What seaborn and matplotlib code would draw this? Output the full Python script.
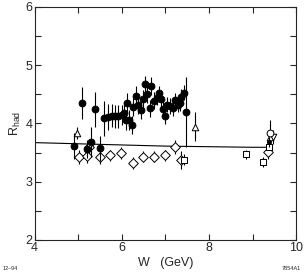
import numpy as np
import pandas as pd
import seaborn as sns
import matplotlib.pyplot as plt
from matplotlib.ticker import MultipleLocator

# filled circles
circ_w = [4.90, 5.09, 5.21, 5.30, 5.39, 5.50, 5.59, 5.69, 5.77, 5.84, 5.92, 6.00, 6.05,
          6.09, 6.12, 6.17, 6.24, 6.26, 6.32, 6.38, 6.43, 6.49, 6.54, 6.58, 6.64, 6.68,
          6.74, 6.80, 6.85, 6.90, 6.94, 6.99, 7.03, 7.10, 7.17, 7.23, 7.28, 7.33, 7.37,
          7.43, 7.47]
circ_r = [3.61, 4.35, 3.56, 3.68, 4.24, 3.57, 4.09, 4.11, 4.13, 4.12, 4.12, 4.15, 4.18,
          4.05, 4.35, 4.06, 3.97, 4.28, 4.47, 4.32, 4.23, 4.42, 4.67, 4.50, 4.26, 4.64,
          4.39, 4.44, 4.52, 4.42, 4.24, 4.12, 4.32, 4.30, 4.26, 4.40, 4.32, 4.35, 4.46,
          4.53, 4.19]
circ_err = [0.22, 0.28, 0.15, 0.25, 0.30, 0.22, 0.30, 0.22, 0.20, 0.20, 0.20, 0.17, 0.17,
            0.17, 0.18, 0.17, 0.15, 0.15, 0.17, 0.15, 0.15, 0.15, 0.15, 0.15, 0.15, 0.15,
            0.15, 0.13, 0.13, 0.13, 0.13, 0.13, 0.13, 0.13, 0.13, 0.13, 0.13, 0.13, 0.13,
            0.13, 0.60]

# small filled circle at upsilon region
dot_w = [9.38]
dot_r = [3.68]
dot_err = [0.08]

# open diamonds
dia_w = [5.01, 5.19, 5.25, 5.50, 5.74, 5.99, 6.25, 6.49, 6.74, 6.98, 7.22, 7.37, 9.36]
dia_r = [3.43, 3.44, 3.59, 3.42, 3.45, 3.49, 3.32, 3.43, 3.43, 3.45, 3.59, 3.37, 3.51]
dia_err = [0.12, 0.12, 0.15, 0.12, 0.10, 0.10, 0.10, 0.10, 0.10, 0.10, 0.12, 0.15, 0.12]

# open circle
oc_w = [9.40]
oc_r = [3.83]
oc_err = [0.22]

# open triangles (up / down)
tri_w = [4.98, 7.68, 9.40]
tri_r = [3.83, 3.94, 3.76]
tri_err = [0.10, 0.25, 0.10]
tdn_w = [9.46]
tdn_r = [3.76]
tdn_err = [0.12]

# open squares
sq_w = [7.43, 8.86, 9.24, 9.38]
sq_r = [3.38, 3.47, 3.34, 3.60]
sq_err = [0.10, 0.08, 0.08, 0.10]

# QCD curve
curve_w = [4.0, 5.0, 6.0, 7.0, 8.0, 9.0, 9.4]
curve_r = [3.67, 3.65, 3.63, 3.61, 3.60, 3.59, 3.59]

sns.set_style("ticks")
plt.rcParams['font.family'] = ['Liberation Sans', 'DejaVu Sans']

fig = plt.figure(figsize=(3.04, 2.77), dpi=100)
ax = fig.add_axes([0.114, 0.134, 0.86, 0.841])

sns.lineplot(x=curve_w, y=curve_r, ax=ax, color='black', lw=0.8)

def draw(w, r, err, marker, ms, filled, z=3):
    ax.errorbar(w, r, yerr=err, fmt='none', ecolor='black', elinewidth=0.8, zorder=z)
    sns.scatterplot(x=w, y=r, ax=ax, marker=marker, s=ms,
                    color='black' if filled else 'white',
                    edgecolor='black', linewidth=0.7, zorder=z + 1)

draw(dia_w, dia_r, dia_err, 'D', 24, False)
draw(sq_w, sq_r, sq_err, 's', 20, False)
draw(tri_w, tri_r, tri_err, '^', 22, False)
draw(tdn_w, tdn_r, tdn_err, 'v', 22, False)
draw(oc_w, oc_r, oc_err, 'o', 24, False)
draw(circ_w, circ_r, circ_err, 'o', 24, True, z=5)
draw(dot_w, dot_r, dot_err, 'o', 8, True, z=7)

ax.set_xlim(4, 10)
ax.set_ylim(2, 6)
ax.set_xticks([4, 6, 8, 10])
ax.set_yticks([2, 3, 4, 5, 6])
ax.xaxis.set_minor_locator(MultipleLocator(1))
ax.yaxis.set_minor_locator(MultipleLocator(0.5))
ax.tick_params(which='both', direction='in', top=True, right=True, length=4.5,
               width=0.8, labelsize=9, pad=1.5)
for s in ax.spines.values():
    s.set_linewidth(0.8)

ax.set_xlabel('W   (GeV)', fontsize=9, labelpad=2)
ax.set_ylabel(r'R$_{\mathregular{had}}$', fontsize=9, labelpad=2)

fig.text(0.01, 0.025, '12\u201394', fontsize=4)
fig.text(0.99, 0.025, '7854A1', fontsize=4, ha='right')

fig.savefig('out.png', dpi=100)
